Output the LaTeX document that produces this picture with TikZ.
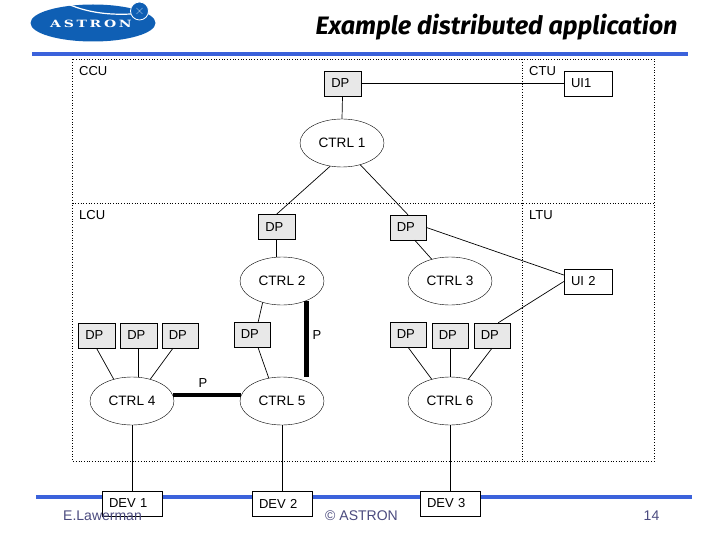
\documentclass[tikz,border=0pt]{standalone}
\usepackage{fontspec}
\setmainfont{Liberation Sans}
\newfontfamily\titlefont{Fira Sans}
\newfontfamily\logofont[LetterSpace=27,FakeStretch=1.4]{DejaVu Serif}
\usetikzlibrary{shapes.geometric}
\definecolor{rulecol}{HTML}{3B62DB}
\definecolor{logocol}{HTML}{0F5FB4}
\definecolor{footcol}{HTML}{4A4A7E}
\definecolor{dpcol}{HTML}{E8E8E8}
\tikzset{
  ctrl/.style={draw,ellipse,fill=white,minimum width=84pt,minimum height=48pt,inner sep=0pt,font=\fontsize{13.6}{15}\selectfont},
  iobox/.style={draw,fill=white,minimum height=25pt,inner sep=0pt,text width=#1-14pt,minimum width=#1,font=\fontsize{13}{15}\selectfont},
  dpbox/.style={iobox=36.5pt,fill=dpcol},
  lbl/.style={anchor=west,inner sep=0pt,font=\fontsize{13}{15}\selectfont},
  foot/.style={inner sep=0pt,text=footcol,font=\fontsize{14}{16}\selectfont},
  link/.style={line width=.7pt},
  bus/.style={line width=4.5pt}
}
\begin{document}
\begin{tikzpicture}[x=1pt,y=-1pt]
\useasboundingbox (0,0) rectangle (720,540);
\fill[logocol] (93,23) ellipse[x radius=62.5,y radius=18.5];
\draw[white,line width=1.2pt] (70,5) .. controls (90,13) and (110,15) .. (131,14);
\draw[white,fill=logocol,line width=.8pt] (139.5,11) circle[radius=9];
\draw[white,line width=.3pt] (136.5,8) -- (142.5,14) (142.5,8) -- (136.5,14);
\node[text=white,inner sep=0pt,font=\logofont\bfseries\fontsize{10}{11}\selectfont] (logotext) at (91,23.5) {ASTRON};
\node[inner sep=0pt,font=\titlefont\bfseries\itshape\fontsize{25.2}{27}\selectfont] (title) at (496.5,27) {Example distributed application};
\fill[rulecol] (32,52) rectangle (688,56);
\fill[rulecol] (36,495) rectangle (692,499);
\draw[dotted,line width=.7pt] (72.5,59.5) rectangle (654.5,461);
\draw[dotted,line width=.7pt] (72.5,203) -- (654.5,203);
\draw[dotted,line width=.7pt] (522,59.5) -- (522,461);
\node[lbl] (ccu) at (79,71) {CCU};
\node[lbl] (ctu) at (529,71) {CTU};
\node[lbl] (lcu) at (79,215) {LCU};
\node[lbl] (ltu) at (529,215) {LTU};
\foreach \name/\x/\y/\num in {ctrla/342/143/1,ctrlb/282/281/2,ctrlc/450/281/3,ctrld/132/401/4,ctrle/282/401/5,ctrlf/450/401/6}
\node[ctrl] (\name) at (\x,\y) {CTRL \num};
\foreach \name/\x/\y in {dpa/342.5/83.5,dpb/276.5/227,dpc/408/227.5,dpd/96.5/335.5,dpe/138.5/335.5,dpf/180/335.5,dpg/252/334.5,dph/408/334.5,dpi/450/335.5,dpj/492/335.5}
\node[dpbox] (\name) at (\x,\y) {DP};
\node[iobox=48pt] (uia) at (588,83.5) {UI1};
\node[iobox=48pt] (uib) at (588,281.5) {UI 2};
\foreach \name/\x/\num in {deva/132/1,devb/282/2,devc/450/3}
\node[iobox=60pt] (\name) at (\x,503.5) {DEV \num};
\node[inner sep=0pt,font=\fontsize{13}{15}\selectfont] (pb) at (317,335) {P};
\node[inner sep=0pt,font=\fontsize{13}{15}\selectfont] (pa) at (203,383) {P};
\node[foot] (author) at (102.5,516) {E.Lawerman};
\node[foot] (copy) at (361.5,516) {© ASTRON};
\node[foot] (page) at (651.5,516) {14};
\draw[link] (dpa) -- (uia);
\draw[link] (dpa.south) -- (ctrla.north);
\draw[link] (ctrla.243) -- (dpb.north);
\draw[link] (ctrla.-50) -- (dpc.north);
\draw[link] (dpb.south) -- (dpb.south |- ctrlb.north);
\draw[link] (dpc.-62) -- (ctrlc.130);
\draw[link] (dpc.east) -- (uib.165);
\draw[link] (dpj.64) -- (uib.west);
\draw[link] (dpd.south) -- (ctrld.130);
\draw[link] (dpe.south) -- (dpe.south |- ctrld.north);
\draw[link] (dpf.241) -- (ctrld.50);
\draw[link] (dpg.64) -- (ctrlb.228);
\draw[link] (dpg.-65) -- (ctrle.120);
\draw[link] (dph.south) -- (ctrlf.130);
\draw[link] (dpi.south) -- (ctrlf.north);
\draw[link] (dpj.south) -- (ctrlf.50);
\draw[link] (ctrld.south) -- (deva.north);
\draw[link] (ctrle.south) -- (devb.north);
\draw[link] (ctrlf.south) -- (devc.north);
\draw[bus] (ctrld.8) -- (ctrle.172);
\draw[bus] (ctrlb.-39) -- (ctrlb.-39 |- ctrle.north);
\end{tikzpicture}
\end{document}
